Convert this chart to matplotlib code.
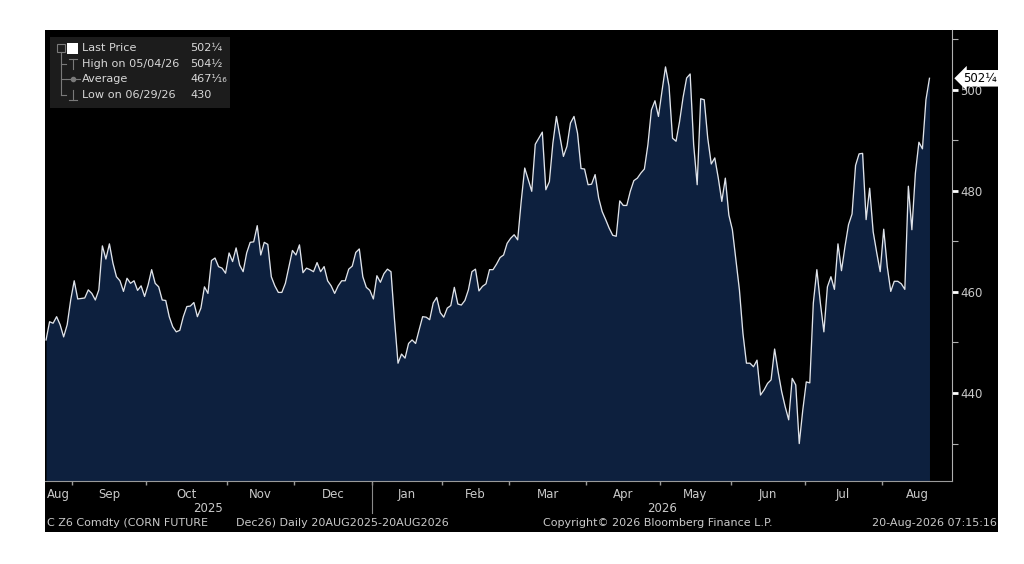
import numpy as np
import pandas as pd
import matplotlib
matplotlib.use("Agg")
import matplotlib.pyplot as plt
from matplotlib.patches import Rectangle
from matplotlib.lines import Line2D

# CBOT trading days, 20 Aug 2025 - 20 Aug 2026
holidays = ["2025-09-01", "2025-11-27", "2025-12-25", "2026-01-01", "2026-01-19",
            "2026-02-16", "2026-04-03", "2026-05-25", "2026-06-19", "2026-07-03"]
dates = pd.bdate_range("2025-08-20", "2026-08-20")
dates = dates[~dates.isin(pd.to_datetime(holidays))]

# daily last price
prices = [
    450.5, 454.1, 453.8, 455.1, 453.5, 451.1, 453.5, 458.4, 462.2, 458.6,
    458.7, 458.8, 460.4, 459.7, 458.4, 460.4, 469.1, 466.5, 469.5, 465.7,
    463.0, 462.2, 460.1, 462.7, 461.7, 462.2, 460.3, 461.2, 459.1, 461.4,
    464.4, 461.7, 461.0, 458.4, 458.3, 455.1, 453.1, 452.1, 452.4, 455.1,
    457.1, 457.2, 457.9, 455.1, 456.8, 461.0, 459.7, 466.2, 466.7, 465.0,
    464.7, 463.7, 467.7, 466.0, 468.7, 465.3, 464.0, 467.7, 469.8, 469.9,
    473.1, 467.3, 469.8, 469.4,
    463.0, 461.2, 459.9, 459.9, 461.7, 465.0, 468.2, 467.3, 469.3, 463.8,
    464.7, 464.4, 464.0, 465.8, 464.0, 465.0, 462.2, 461.2, 459.7, 461.2,
    462.2, 462.2, 464.5, 465.1, 467.8, 468.5, 463.0, 460.9, 460.3, 458.6,
    463.2, 461.9, 463.6, 464.5, 464.0, 454.5, 445.9, 447.7, 446.9, 449.8,
    450.5, 449.8, 452.5, 455.1, 455.0, 454.5, 457.8, 458.9, 455.9, 455.0,
    456.8, 457.3, 460.9, 457.6, 457.4, 458.3, 460.4, 464.0, 464.5, 460.2,
    461.1, 461.6, 464.4, 464.4,
    465.5, 466.8,
    467.3, 469.6, 470.6, 471.3, 470.3, 477.9, 484.5, 482.2, 479.9, 489.2,
    490.4, 491.6, 480.2, 481.8, 489.4, 494.7, 490.8, 486.8, 488.8, 493.4,
    494.7, 491.4, 484.4, 484.3, 481.2, 481.3, 483.2, 478.6, 475.9, 474.3,
    472.6, 471.2, 471.0, 478.0, 477.1, 477.1, 479.9, 482.0, 482.5, 483.5,
    484.3, 489.1, 496.0, 497.8, 494.7, 499.7, 504.5, 500.7, 490.4, 489.8,
    493.7, 498.5, 502.3, 503.1, 489.1, 481.2, 498.2, 498.0, 490.4, 485.3,
    486.5, 482.5,
    477.9, 482.5, 475.2, 472.3, 466.3, 460.4, 451.8, 445.9, 445.9, 445.2,
    446.5, 439.6, 440.6, 441.9, 442.6, 448.7, 444.2, 440.3, 437.3, 434.7,
    442.9, 441.6, 430.0, 436.6, 442.2, 442.0, 457.8, 464.4, 457.8, 452.1,
    461.0, 463.0, 460.5, 469.5, 464.2, 469.0, 473.3, 475.4, 485.0, 487.3,
    487.4, 474.3, 480.5, 471.9, 467.8, 464.0, 472.4, 465.0, 460.1, 462.1,
    462.1, 461.6, 460.5, 480.9, 472.3, 483.5, 489.6, 488.3, 498.0, 502.25,
]

month_names = ["Aug", "Sep", "Oct", "Nov", "Dec", "Jan", "Feb",
               "Mar", "Apr", "May", "Jun", "Jul", "Aug"]
years = ["2025", "2026"]
legend_labels = ["Last Price", "High on 05/04/26", "Average", "Low on 06/29/26"]
legend_values = ["502\u00bc", "504\u00bd", "467\u00b9\u2044\u2081\u2086", "430"]
last_tag = "502\u00bc"
y_major = [440, 460, 480, 500]
y_minor = [430, 450, 470, 490, 510]

W, H = 1024, 564
txt = "#c9c9c9"
font = "DejaVu Sans"


def fx(px):
    return px / W


def fy(py):
    return 1 - py / H


fig = plt.figure(figsize=(W / 100, H / 100), dpi=100, facecolor="white")
# black terminal panel behind everything
fig.patches.append(Rectangle((fx(45), fy(532)), fx(998) - fx(45), fy(30) - fy(532),
                             transform=fig.transFigure, facecolor="black",
                             edgecolor="none", zorder=-5))

ax = fig.add_axes([fx(45), fy(481), fx(952) - fx(45), fy(30) - fy(481)])
ax.set_facecolor("black")

x = np.arange(len(prices))
bottom = 422.6
ax.fill_between(x, prices, bottom, color="#0d203e", lw=0, zorder=1)
ax.plot(x, prices, color="#dfe3ea", lw=0.95, zorder=2)
ax.set_xlim(-0.3, 257.4)
ax.set_ylim(bottom, 511.8)

for s in ["top", "left"]:
    ax.spines[s].set_visible(False)
ax.spines["right"].set_color("#b0b0b0")
ax.spines["bottom"].set_color("#9a9a9a")

# y axis on the right
ax.yaxis.tick_right()
ax.set_yticks(y_major)
ax.set_yticks(y_minor, minor=True)
ax.tick_params(axis="y", which="major", length=4, width=2, color="white",
               labelcolor=txt, labelsize=8.5, pad=2)
ax.tick_params(axis="y", which="minor", length=4, width=0.8, color="#b0b0b0")
for lab in ax.get_yticklabels():
    lab.set_family(font)

# month boundaries and labels
month_start = [0] + [i for i in range(1, len(dates)) if dates[i].month != dates[i - 1].month]
bounds = [m - 0.5 for m in month_start[1:]]
edges = [-0.3] + bounds + [257.4]
mids = [(edges[i] + edges[i + 1]) / 2 for i in range(len(edges) - 1)]
ax.set_xticks(bounds)
ax.set_xticklabels([])
ax.tick_params(axis="x", which="major", length=3, width=1, color="#9a9a9a")
ax.set_xticks(mids, minor=True)
ax.set_xticklabels(month_names, minor=True)
ax.tick_params(axis="x", which="minor", length=0, labelcolor=txt, labelsize=8.5, pad=5)
for lab in ax.get_xticklabels(minor=True):
    lab.set_family(font)

jan = bounds[4]
ytrans = ax.get_xaxis_transform()
ax.text((edges[0] + jan) / 2, -0.047, years[0], transform=ytrans, ha="center", va="top",
        color=txt, fontsize=8.5, family=font)
ax.text((jan + edges[-1]) / 2, -0.047, years[1], transform=ytrans, ha="center", va="top",
        color=txt, fontsize=8.5, family=font)
ax.add_line(Line2D([jan, jan], [-0.005, -0.072], transform=ytrans, color="#8a8a8a",
                   lw=0.8, clip_on=False))

# last price tag
ax.annotate(last_tag, xy=(1.0, prices[-1]), xycoords=("axes fraction", "data"),
            xytext=(8, 0), textcoords="offset points", ha="left", va="center",
            fontsize=8.5, family=font, color="black",
            bbox=dict(boxstyle="larrow,pad=0.15", fc="white", ec="none"))

# legend box
fig.patches.append(Rectangle((fx(50), fy(108)), fx(230) - fx(50), fy(37) - fy(108),
                             transform=fig.transFigure, facecolor="#1c1c1c",
                             edgecolor="none", zorder=3))
rows = [48, 64, 79, 95]
tree = "#7a7a7a"
fig.add_artist(Line2D([fx(61), fx(61)], [fy(52), fy(95)], color=tree, lw=0.8, zorder=4))
for r in rows[1:]:
    fig.add_artist(Line2D([fx(61), fx(66)], [fy(r), fy(r)], color=tree, lw=0.8, zorder=4))
fig.patches.append(Rectangle((fx(57), fy(52)), fx(8), fy(0) - fy(8),
                             transform=fig.transFigure, facecolor="none",
                             edgecolor=tree, lw=0.8, zorder=4))
fig.patches.append(Rectangle((fx(67), fy(54)), fx(11), fy(0) - fy(11),
                             transform=fig.transFigure, facecolor="white",
                             edgecolor="none", zorder=4))
# high / low markers
fig.add_artist(Line2D([fx(69), fx(77)], [fy(59), fy(59)], color=tree, lw=0.8, zorder=4))
fig.add_artist(Line2D([fx(73), fx(73)], [fy(59), fy(69)], color=tree, lw=0.8, zorder=4))
fig.add_artist(Line2D([fx(69), fx(77)], [fy(100), fy(100)], color=tree, lw=0.8, zorder=4))
fig.add_artist(Line2D([fx(73), fx(73)], [fy(90), fy(100)], color=tree, lw=0.8, zorder=4))
# average marker
fig.add_artist(Line2D([fx(66), fx(80)], [fy(79), fy(79)], color=tree, lw=0.8, zorder=4))
fig.add_artist(Line2D([fx(73)], [fy(79)], color=tree, marker="o", ms=3, lw=0, zorder=4))

for r, lab, val in zip(rows, legend_labels, legend_values):
    fig.text(fx(82), fy(r), lab, color="#d8d8d8", fontsize=8.1, family=font,
             va="center", ha="left", zorder=5)
    fig.text(fx(190), fy(r), val, color="#d8d8d8", fontsize=8.1, family=font,
             va="center", ha="left", zorder=5)

# footer
fig.text(fx(47), fy(523), "C Z6 Comdty (CORN FUTURE        Dec26) Daily 20AUG2025-20AUG2026",
         color=txt, fontsize=8.0, family=font, va="center", ha="left")
fig.text(fx(543), fy(523), "Copyright\u00a9 2026 Bloomberg Finance L.P.",
         color=txt, fontsize=8.0, family=font, va="center", ha="left")
fig.text(fx(997), fy(523), "20-Aug-2026 07:15:16",
         color=txt, fontsize=8.0, family=font, va="center", ha="right")

fig.savefig("out.png", dpi=100, facecolor="white")
